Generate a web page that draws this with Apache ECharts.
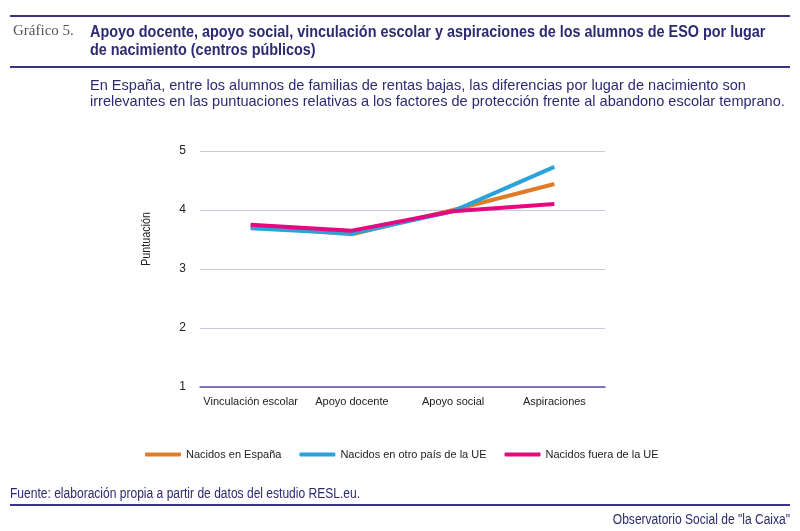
<!DOCTYPE html>
<html lang="es">
<head>
    <meta charset="UTF-8">
    <title>Gráfico 5</title>
    <script src="https://cdn.jsdelivr.net/npm/echarts@6/dist/echarts.min.js"></script>
    <style>
        html, body { margin: 0; padding: 0; background: #fff; }
        #main { width: 800px; height: 531px; }
    </style>
</head>
<body>
<div id="main"></div>
<script>
    var categorias = ['Vinculación escolar', 'Apoyo docente', 'Apoyo social', 'Aspiraciones'];
    var espana = [3.72, 3.59, 4.0, 4.44];
    var otroUE = [3.69, 3.6, 3.98, 4.73];
    var fueraUE = [3.75, 3.65, 3.98, 4.1];
    var ticksY = [1, 2, 3, 4, 5];

    var navy = '#2b2a72';
    var fuente = '"Liberation Sans", Arial, sans-serif';

    var myChart = echarts.init(document.getElementById('main'));

    function serie(name, data, color) {
        return {
            name: name,
            type: 'line',
            data: data,
            symbol: 'none',
            lineStyle: { width: 4, color: color },
            itemStyle: { color: color }
        };
    }

    // texto estrecho: la fuente condensada original no existe, se comprime en X
    function texto(x, y, str, font, color, sx, align, rot, lh, va) {
        var st = { text: str, font: font, fill: color, align: align || 'left', verticalAlign: va || 'top' };
        if (lh) st.lineHeight = lh;
        return { type: 'text', x: x, y: y, scaleX: sx, rotation: rot || 0, style: st };
    }

    var option = {
        animation: false,
        textStyle: { fontFamily: fuente },
        grid: { left: 200, right: 195, top: 151, bottom: 144 },
        legend: {
            bottom: 66,
            left: 140,
            itemWidth: 36,
            itemHeight: 4,
            itemGap: 18,
            icon: 'roundRect',
            textStyle: { fontFamily: fuente, fontSize: 11, color: '#222' },
            data: ['Nacidos en España', 'Nacidos en otro país de la UE', 'Nacidos fuera de la UE']
        },
        xAxis: {
            type: 'category',
            data: categorias,
            axisTick: { show: false },
            axisLine: { lineStyle: { color: '#5a52a8', width: 1.5 } },
            axisLabel: { color: '#222', fontSize: 11, margin: 9, interval: 0 }
        },
        yAxis: {
            type: 'value',
            min: ticksY[0],
            max: ticksY[ticksY.length - 1],
            interval: 1,
            axisLine: { show: false },
            axisTick: { show: false },
            axisLabel: { color: '#222', fontSize: 12, margin: 14 },
            splitLine: { lineStyle: { color: '#cbc8e2', width: 1 } }
        },
        series: [
            serie('Nacidos en España', espana, '#e07b28'),
            serie('Nacidos en otro país de la UE', otroUE, '#2aa3dd'),
            serie('Nacidos fuera de la UE', fueraUE, '#e4097f')
        ],
        graphic: [
            { type: 'rect', shape: { x: 10, y: 15, width: 780, height: 2 }, style: { fill: '#3a3484' } },
            texto(13, 24, 'Gráfico 5.', '15px "Liberation Serif", serif', '#555', 1),
            texto(90, 24, 'Apoyo docente, apoyo social, vinculación escolar y aspiraciones de los alumnos de ESO por lugar\nde nacimiento (centros públicos)',
                'bold 16px ' + fuente, navy, 0.9, 'left', 0, 18),
            { type: 'rect', shape: { x: 10, y: 66, width: 780, height: 2 }, style: { fill: '#3a3484' } },
            texto(90, 78, 'En España, entre los alumnos de familias de rentas bajas, las diferencias por lugar de nacimiento son\nirrelevantes en las puntuaciones relativas a los factores de protección frente al abandono escolar temprano.',
                '15px ' + fuente, navy, 0.97, 'left', 0, 16),
            texto(147, 239, 'Puntuación', '12px ' + fuente, '#222', 0.9, 'center', Math.PI / 2, 0, 'middle'),
            texto(10, 487, 'Fuente: elaboración propia a partir de datos del estudio RESL.eu.', '14px ' + fuente, navy, 0.86),
            { type: 'rect', shape: { x: 10, y: 504, width: 780, height: 2 }, style: { fill: '#3a3484' } },
            texto(790, 513, 'Observatorio Social de "la Caixa"', '14px ' + fuente, navy, 0.86, 'right')
        ]
    };

    myChart.setOption(option);
</script>
</body>
</html>
